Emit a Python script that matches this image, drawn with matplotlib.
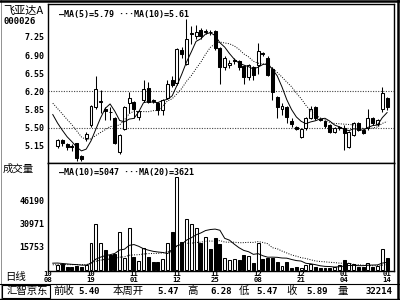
import numpy as np
import pandas as pd
import matplotlib
matplotlib.use("Agg")
import matplotlib.pyplot as plt
from matplotlib.lines import Line2D
from matplotlib.patches import Rectangle

plt.rcParams['font.family'] = ['Noto Sans CJK SC', 'DejaVu Sans']
MONO = ['DejaVu Sans Mono']

W, H = 400, 300

# closes / volumes before the visible window (feed the moving averages)
prev_close = [6.28, 6.25, 6.20, 6.12, 6.10, 6.08, 5.90, 5.75, 5.60, 5.44]
prev_vol = [2400, 2200, 2600, 2300, 2500, 2400, 2100, 2700, 2400, 2300, 2500,
            6500, 5200, 4800, 4300, 5600, 3900, 4100, 4500, 3800]

opens = [5.15, 5.27, 5.18, 5.15, 5.20, 4.95, 5.30, 5.55, 5.89, 6.00,
         5.87, 5.81, 5.68, 5.03, 5.47, 5.97, 5.99, 5.70, 6.03, 6.26,
         6.04, 5.97, 5.84, 6.07, 6.42, 6.37, 7.00, 6.73, 7.30, 7.27,
         7.38, 7.35, 7.35, 7.37, 7.04, 6.66, 6.70, 6.78, 6.79, 6.68,
         6.47, 6.66, 6.70, 6.93, 6.85, 6.64, 6.10, 5.87, 5.89, 5.62,
         5.51, 5.32, 5.49, 5.68, 5.89, 5.66, 5.62, 5.55, 5.42, 5.49,
         5.49, 5.13, 5.36, 5.59, 5.45, 5.49, 5.68, 5.57, 5.87, 6.08]
highs = [5.28, 5.28, 5.20, 5.18, 5.21, 4.97, 5.42, 5.93, 6.49, 6.22,
         5.90, 5.89, 5.70, 5.38, 5.91, 6.18, 6.01, 5.85, 6.41, 6.39,
         6.06, 6.00, 6.05, 6.41, 6.50, 7.04, 7.05, 7.59, 7.46, 7.48,
         7.42, 7.40, 7.39, 7.39, 7.06, 6.88, 6.80, 6.85, 6.81, 6.70,
         6.72, 6.68, 7.14, 6.96, 6.88, 6.66, 6.12, 5.97, 5.91, 5.68,
         5.53, 5.49, 5.70, 5.91, 5.91, 5.68, 5.64, 5.57, 5.51, 5.53,
         5.55, 5.43, 5.61, 5.61, 5.47, 5.87, 5.70, 5.66, 6.28, 6.10]
lows = [5.11, 5.15, 5.08, 5.05, 4.86, 4.85, 5.24, 5.51, 5.87, 5.78,
        5.64, 5.64, 5.18, 4.99, 5.45, 5.78, 5.68, 5.64, 6.00, 5.97,
        5.97, 5.74, 5.74, 6.05, 6.28, 6.33, 6.85, 6.70, 7.12, 7.20,
        7.20, 7.30, 7.28, 7.00, 6.35, 6.62, 6.65, 6.72, 6.62, 6.35,
        6.42, 6.41, 6.54, 6.88, 6.50, 6.03, 5.68, 5.74, 5.59, 5.51,
        5.45, 5.30, 5.45, 5.66, 5.64, 5.62, 5.49, 5.39, 5.40, 5.45,
        5.07, 5.11, 5.34, 5.43, 5.38, 5.45, 5.55, 5.53, 5.80, 5.85]
closes = [5.26, 5.21, 5.12, 5.13, 4.92, 4.89, 5.38, 5.91, 6.24, 6.02,
          5.82, 5.80, 5.20, 5.36, 5.89, 6.08, 5.87, 5.83, 6.24, 5.99,
          6.02, 5.84, 6.03, 6.35, 6.33, 7.02, 6.91, 7.21, 7.32, 7.35,
          7.27, 7.37, 7.34, 7.04, 6.66, 6.85, 6.75, 6.80, 6.66, 6.47,
          6.70, 6.52, 6.98, 6.92, 6.52, 6.18, 5.89, 5.91, 5.70, 5.57,
          5.47, 5.47, 5.68, 5.87, 5.68, 5.65, 5.53, 5.41, 5.49, 5.51,
          5.40, 5.41, 5.59, 5.45, 5.40, 5.68, 5.59, 5.64, 6.16, 5.89]
volumes = [3300, 3800, 2000, 2200, 2600, 2200, 3300, 17700, 30400, 17700,
           13200, 9900, 10400, 25000, 7700, 27600, 8800, 6000, 14400, 8400,
           5500, 5500, 7100, 18100, 25000, 61300, 18700, 33500, 30200, 27600,
           18100, 21600, 13700, 21000, 17200, 7900, 6600, 7100, 6600, 9700,
           9500, 4400, 18100, 7100, 7700, 8200, 5500, 2600, 5500, 1100,
           2200, 1100, 3300, 3800, 1800, 1100, 1500, 1600, 2000, 3300,
           6600, 4900, 3800, 2200, 1800, 4400, 2200, 2600, 14000, 8000]

price_ticks = [7.25, 6.90, 6.55, 6.20, 5.85, 5.50, 5.15]
price_grid = [6.20, 5.50]
vol_ticks = [46190, 30971, 15753]
date_ticks = [-2, 7, 16, 25, 33, 42, 51, 60, 69]
date_labels = ["10\n08", "10\n19", "11\n01", "11\n12", "11\n25",
               "12\n08", "12\n21", "01\n04", "01\n14"]

status = [("前收", 53, "l", False), ("5.40", 100, "r", True),
          ("本周开", 113, "l", False), ("5.47", 179, "r", True),
          ("高", 187, "l", False), ("6.28", 232, "r", True),
          ("低", 239, "l", False), ("5.47", 278, "r", True),
          ("收", 286, "l", False), ("5.89", 328, "r", True),
          ("量", 337, "l", False), ("32214", 392, "r", True)]


def box(x0, y0, x1, y1):
    return [x0 / W, 1 - y1 / H, (x1 - x0) / W, (y1 - y0) / H]


def ftext(x, y, s, **kw):
    fig.text(x / W, 1 - y / H, s, va="center", **kw)


def fline(xs, ys, **kw):
    fig.add_artist(Line2D([x / W for x in xs], [1 - y / H for y in ys],
                          color="black", **kw))


n = len(closes)
idx = np.arange(n)
o = np.array(opens)
c = np.array(closes)
hi = np.array(highs)
lo = np.array(lows)
vol = np.array(volumes)
up = c >= o

all_c = pd.Series(prev_close + closes)
all_v = pd.Series(prev_vol + volumes, dtype=float)
ma_x = np.arange(-1, n)
ma5 = all_c.rolling(5).mean().to_numpy()[len(prev_close) - 1:]
ma10 = all_c.rolling(10).mean().to_numpy()[len(prev_close) - 1:]
vma10 = all_v.rolling(10).mean().to_numpy()[len(prev_vol) - 1:]
vma20 = all_v.rolling(20).mean().to_numpy()[len(prev_vol) - 1:]

fig = plt.figure(figsize=(4, 3), dpi=100, facecolor="white")
ax_p = fig.add_axes(box(48, 4, 394, 163))
ax_v = fig.add_axes(box(48, 163, 394, 271), sharex=ax_p)

lw = 0.75
body_lo = np.minimum(o, c)
body_hi = np.maximum(o, c)
ax_p.vlines(idx, body_hi, hi, color="black", lw=lw)
ax_p.vlines(idx, lo, body_lo, color="black", lw=lw)
ax_p.bar(idx, np.maximum(body_hi - body_lo, 0.004), bottom=body_lo, width=0.62,
         color=np.where(up, "white", "black"), edgecolor="black", linewidth=lw,
         zorder=3)
ax_p.plot(ma_x, ma5, color="black", lw=0.7, zorder=4)
ax_p.plot(ma_x, ma10, color="black", lw=0.7, ls=(0, (1, 1.5)), zorder=4)
for g in price_grid:
    ax_p.axhline(g, color="#444444", lw=0.8, ls=(0, (1, 1.3)), zorder=1)

ax_v.bar(idx, vol, width=0.62, color=np.where(up, "white", "black"),
         edgecolor="black", linewidth=lw, zorder=3)
ax_v.plot(ma_x, vma10, color="black", lw=0.7, zorder=4)
ax_v.plot(ma_x, vma20, color="black", lw=0.7, ls=(0, (1, 1.5)), zorder=4)

ax_p.set_xlim(-0.83, 70.45)
ax_p.set_ylim(4.821, 7.882)
ax_v.set_ylim(-660, 70800)

ax_p.set_yticks(price_ticks, [f"{t:.2f}" for t in price_ticks])
ax_v.set_yticks(vol_ticks, [str(t) for t in vol_ticks])
for ax in (ax_p, ax_v):
    ax.tick_params(axis="y", length=0, pad=2.5, labelsize=6)
    for lab in ax.get_yticklabels():
        lab.set_family(MONO)
        lab.set_fontweight("bold")
    for sp in ax.spines.values():
        sp.set_linewidth(1.0)
ax_p.tick_params(axis="x", bottom=False, labelbottom=False)
ax_v.set_xticks(date_ticks, date_labels)
ax_v.tick_params(axis="x", length=0, pad=0.3, labelsize=5.2)
for lab in ax_v.get_xticklabels():
    lab.set_family(MONO)
    lab.set_fontweight("bold")
    lab.set_linespacing(0.85)

# left-side captions
ftext(3, 11, "飞亚达A", fontsize=8)
ftext(3, 22, "000026", fontsize=6.5, family=MONO, fontweight="bold")
ftext(3, 169, "成交量", fontsize=7.5)
ftext(5, 277, "日线", fontsize=7.5)

# moving average legends
ftext(59, 14, "—MA(5)=5.79 ···MA(10)=5.61", fontsize=6, family=MONO,
      fontweight="bold")
ftext(59, 172, "—MA(10)=5047 ···MA(20)=3621", fontsize=6, family=MONO,
      fontweight="bold")

# status bar
fline([0, 400], [283.5, 283.5], lw=0.8)
fig.add_artist(Rectangle((2 / W, 1 - 298 / H), 48 / W, 13 / H, fill=False,
                         edgecolor="black", lw=0.8, transform=fig.transFigure))
ftext(7, 291, "汇智京东", fontsize=7.5)
for s, x, align, mono in status:
    if mono:
        ftext(x, 291, s, fontsize=6.5, family=MONO, fontweight="bold",
              ha="right" if align == "r" else "left")
    else:
        ftext(x, 291, s, fontsize=7.5, ha="left")

# outer frame
fline([0, 400], [1, 1], lw=1.8)
fline([397.5, 397.5], [0, 300], lw=1.8)
fline([0.5, 0.5], [0, 300], lw=0.6, alpha=0.5)
fline([0, 400], [299.3, 299.3], lw=1.0)

fig.savefig("out.png", dpi=100, facecolor="white")
